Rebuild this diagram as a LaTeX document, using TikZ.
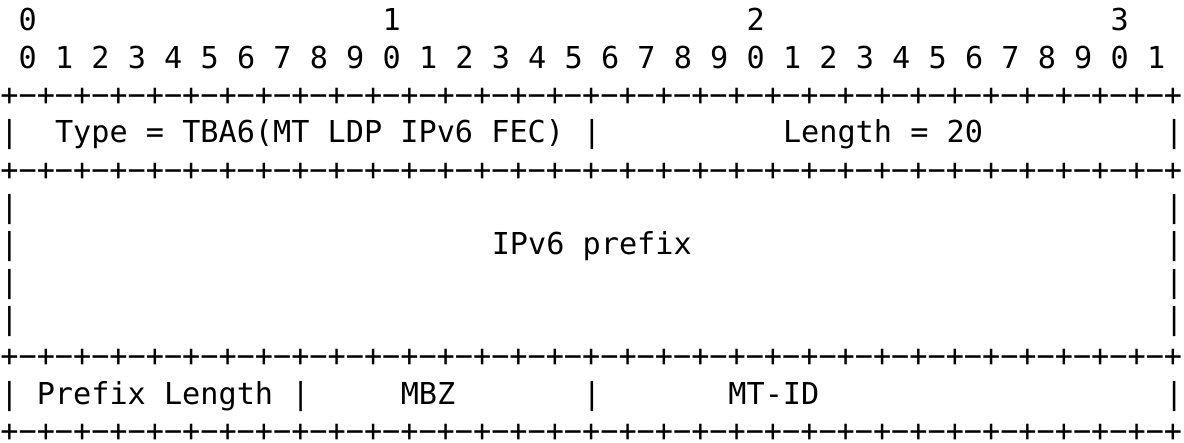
\documentclass[tikz,border=0pt]{standalone}
\usepackage{fontspec}
\setmonofont{DejaVu Sans Mono}
\begin{document}
\begin{tikzpicture}[x=0.5pt,y=-0.5pt,
  txt/.style={font=\ttfamily\fontsize{15.1}{18}\selectfont, inner sep=0pt, anchor=base west}]
\useasboundingbox (0,0) rectangle (1184,443);
\def\cw{18.2}
% header row 0
\foreach \c/\d [count=\k] in {1/0,21/1,41/2,61/3}
  \node[txt] (h\k) at ({\c*\cw},{31+37.3*0}) {\d};
% header row 1
\foreach \i in {0,...,31}{
  \pgfmathtruncatemacro\dd{mod(\i,10)}
  \node[txt] (b\i) at ({(2*\i+1)*\cw},{31+37.3*1}) {\dd};
}
% border lines
\foreach \r/\n in {2/l2,4/l4,9/l9,11/l11}
  \node[txt] (\n) at (0,{31+37.3*\r}) {+−+−+−+−+−+−+−+−+−+−+−+−+−+−+−+−+−+−+−+−+−+−+−+−+−+−+−+−+−+−+−+−+};
% row 3
\node[txt] (p3a) at ({0*\cw},{31+37.3*3}) {|};
\node[txt] (type) at ({3*\cw},{31+37.3*3}) {Type = TBA6(MT LDP IPv6 FEC)};
\node[txt] (p3b) at ({32*\cw},{31+37.3*3}) {|};
\node[txt] (len) at ({43*\cw},{31+37.3*3}) {Length = 20};
\node[txt] (p3c) at ({64*\cw},{31+37.3*3}) {|};
% rows 5-8
\foreach \r in {5,...,8}{
  \node[txt] (pl\r) at ({0*\cw},{31+37.3*\r}) {|};
  \node[txt] (pr\r) at ({64*\cw},{31+37.3*\r}) {|};
}
\node[txt] (pfx) at ({27*\cw},{31+37.3*6}) {IPv6 prefix};
% row 10
\node[txt] (p10a) at ({0*\cw},{31+37.3*10}) {|};
\node[txt] (plen) at ({2*\cw},{31+37.3*10}) {Prefix Length};
\node[txt] (p10b) at ({16*\cw},{31+37.3*10}) {|};
\node[txt] (mbz) at ({22*\cw},{31+37.3*10}) {MBZ};
\node[txt] (p10c) at ({32*\cw},{31+37.3*10}) {|};
\node[txt] (mtid) at ({40*\cw},{31+37.3*10}) {MT-ID};
\node[txt] (p10d) at ({64*\cw},{31+37.3*10}) {|};
\end{tikzpicture}
\end{document}
